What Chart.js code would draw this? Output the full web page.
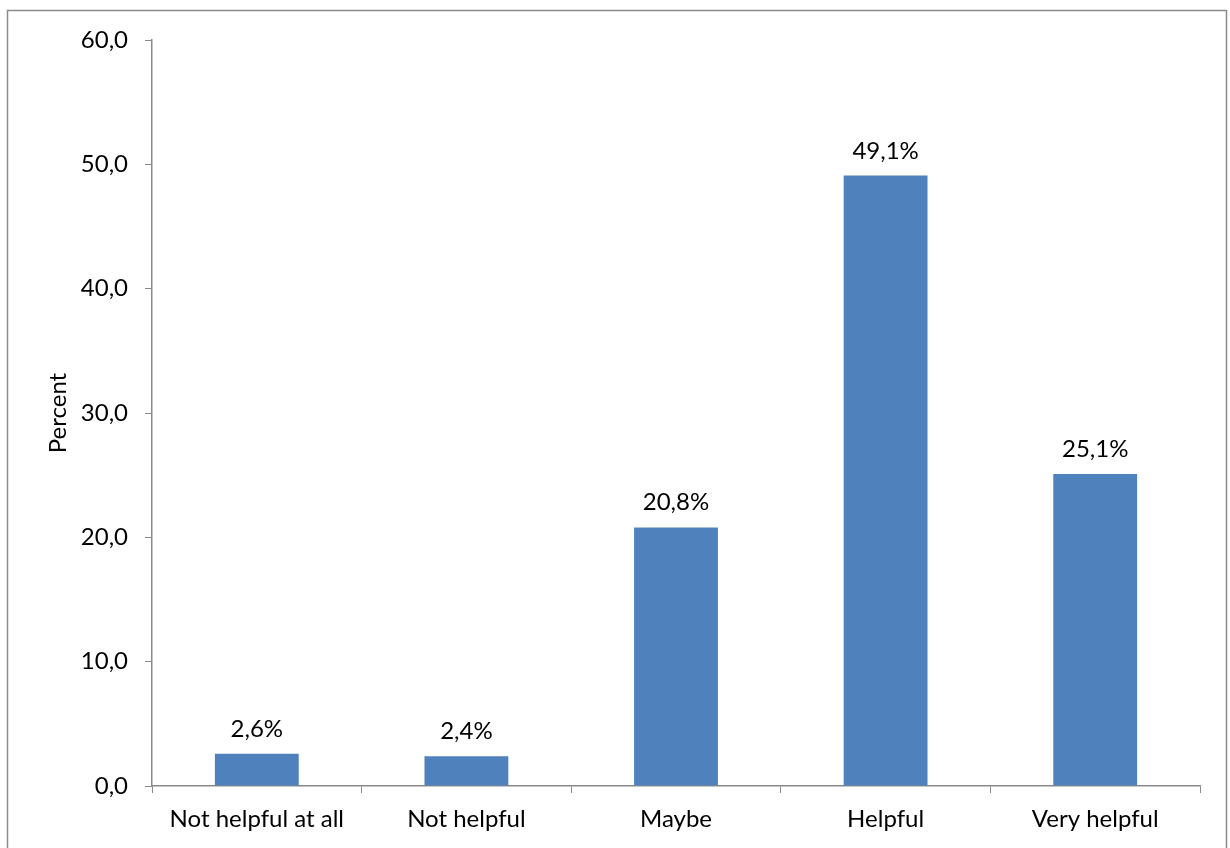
<!DOCTYPE html>
<html>
<head>
<meta charset="utf-8">
<script src="https://cdn.jsdelivr.net/npm/chart.js@4"></script>
<style>
  html, body { margin: 0; padding: 0; background: #fff; }
  #wrap { width: 1230px; height: 848px; }
</style>
</head>
<body>
<div id="wrap"><canvas id="grafica" width="1230" height="848"></canvas></div>
<script>
// Categorías y porcentajes
const categorias = ["Not helpful at all", "Not helpful", "Maybe", "Helpful", "Very helpful"];
const porcentajes = [2.6, 2.4, 20.8, 49.1, 25.1];
const ejeY = { min: 0, max: 60, paso: 10 };

const gris = "#8a8a8a";
const fuente = { family: "Lato, 'Open Sans', sans-serif", size: 24 };

// Formato con coma decimal
function conComa(v, dec) {
    return v.toFixed(dec).replace(".", ",");
}

// Marco alrededor del gráfico
const marco = {
    id: "marco",
    beforeDraw(chart) {
        const ctx = chart.ctx;
        ctx.save();
        ctx.fillStyle = "#fff";
        ctx.fillRect(0, 0, chart.width, chart.height);
        ctx.strokeStyle = gris;
        ctx.lineWidth = 1.5;
        ctx.strokeRect(7.5, 10.5, 1219, 900);
        ctx.restore();
    }
};

// Etiquetas de valor encima de cada barra
const etiquetas = {
    id: "etiquetas",
    afterDatasetsDraw(chart) {
        const ctx = chart.ctx;
        const meta = chart.getDatasetMeta(0);
        ctx.save();
        ctx.fillStyle = "#000";
        ctx.font = fuente.size + "px " + fuente.family;
        ctx.textAlign = "center";
        ctx.textBaseline = "alphabetic";
        meta.data.forEach((barra, i) => {
            ctx.fillText(conComa(porcentajes[i], 1) + "%", barra.x, barra.y - 17);
        });
        ctx.restore();
    }
};

const ctx = document.getElementById("grafica").getContext("2d");
new Chart(ctx, {
    type: "bar",
    data: {
        labels: categorias,
        datasets: [{
            data: porcentajes,
            backgroundColor: "#4F81BD",
            barPercentage: 0.4,
            categoryPercentage: 1.0,
        }],
    },
    options: {
        responsive: false,
        animation: false,
        layout: { padding: { top: 40, right: 30, left: 0, bottom: 0 } },
        plugins: {
            legend: { display: false },
            tooltip: { enabled: false },
        },
        scales: {
            x: {
                grid: { drawOnChartArea: false, tickLength: 7, color: gris, offset: true },
                border: { color: gris, width: 1.5 },
                ticks: { color: "#000", font: fuente, padding: 12, maxRotation: 0 },
                afterFit(scale) { scale.height = 62; },
            },
            y: {
                min: ejeY.min,
                max: ejeY.max,
                grid: { drawOnChartArea: false, tickLength: 7, color: gris },
                border: { color: gris, width: 1.5 },
                ticks: {
                    stepSize: ejeY.paso,
                    color: "#000",
                    font: fuente,
                    padding: 17,
                    callback: (v) => conComa(v, 1),
                },
                title: {
                    display: true,
                    text: "Percent",
                    color: "#000",
                    font: fuente,
                    padding: { top: 44, bottom: 0 },
                },
                afterFit(scale) { scale.width = 152; },
            },
        },
    },
    plugins: [marco, etiquetas],
});
</script>
</body>
</html>
